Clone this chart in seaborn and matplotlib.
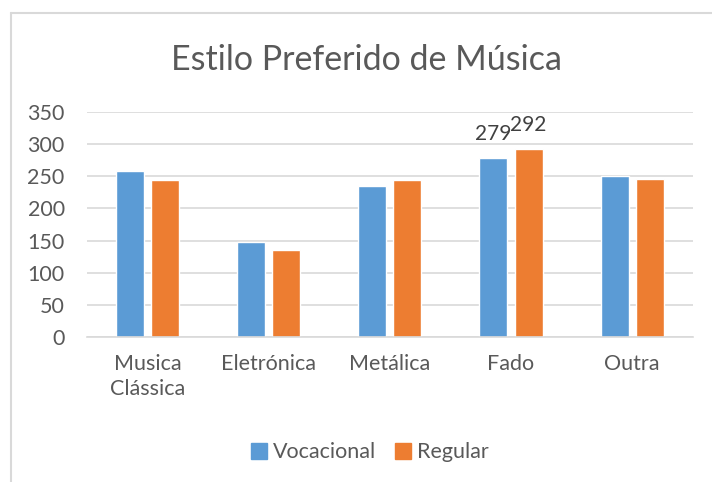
import matplotlib.pyplot as plt
import matplotlib.lines as mlines
import seaborn as sns
import pandas as pd

categories = ['Musica\nClássica', 'Eletrónica', 'Metálica', 'Fado', 'Outra']
vocacional = [258, 147, 234, 279, 251]
regular = [244, 136, 244, 292, 246]
series_names = ['Vocacional', 'Regular']
colors = ['#5b9bd5', '#ed7d31']
labelled = 'Fado'  # only this category shows data labels

df = pd.DataFrame({
    'Estilo': categories * 2,
    'Grupo': [series_names[0]] * len(categories) + [series_names[1]] * len(categories),
    'Valor': vocacional + regular,
})

sns.set_style('white')
plt.rcParams['font.family'] = ['Lato', 'DejaVu Sans']

fig = plt.figure(figsize=(7.12, 4.82), dpi=100)
ax = fig.add_axes([0.122, 0.3008, 0.851, 0.4672])

sns.barplot(data=df, x='Estilo', y='Valor', hue='Grupo', palette=colors,
            width=0.58, gap=0.2, ax=ax, legend=False, saturation=1,
            errorbar=None)

ax.set_ylim(0, 350)
ax.set_xlim(-0.5, len(categories) - 0.5)
ax.set_yticks(range(0, 351, 50))
ax.yaxis.grid(True, color='#d9d9d9', linewidth=1.2)
ax.set_axisbelow(True)
for s in ['top', 'right', 'left']:
    ax.spines[s].set_visible(False)
ax.spines['bottom'].set_color('#d9d9d9')
ax.spines['bottom'].set_linewidth(1.2)
ax.tick_params(axis='both', length=0, labelsize=15.5, colors='#595959')
ax.tick_params(axis='x', pad=12)
ax.tick_params(axis='y', pad=16)
for t in ax.get_xticklabels():
    t.set_linespacing(1.35)
ax.set_xlabel('')
ax.set_ylabel('')

# data labels for Fado
idx = [c.replace('\n', ' ') for c in categories].index(labelled)
for cont, vals in zip(ax.containers, [vocacional, regular]):
    bar = cont.patches[idx]
    ax.annotate(str(vals[idx]), (bar.get_x() + bar.get_width() / 2, bar.get_height()),
                xytext=(0, 10), textcoords='offset points', ha='center', va='bottom',
                fontsize=15, color='#404040')

fig.text(0.515, 0.875, 'Estilo Preferido de Música', ha='center', va='center',
         fontsize=24.5, color='#595959')

handles = [mlines.Line2D([], [], marker='s', linestyle='', markersize=12,
                         color=c, label=n) for c, n in zip(colors, series_names)]
fig.legend(handles=handles, loc='center', bbox_to_anchor=(0.52, 0.062), ncol=2,
           frameon=False, fontsize=15.5, handlelength=0.7, handletextpad=0.3,
           columnspacing=0.9, labelcolor='#595959')

# outer chart border
fig.add_artist(mlines.Line2D([0.0148, 0.0148], [0, 0.973], color='#d9d9d9', lw=1.5,
                             transform=fig.transFigure))
fig.add_artist(mlines.Line2D([0.0148, 1], [0.973, 0.973], color='#d9d9d9', lw=1.5,
                             transform=fig.transFigure))

fig.savefig('out.png', dpi=100)
